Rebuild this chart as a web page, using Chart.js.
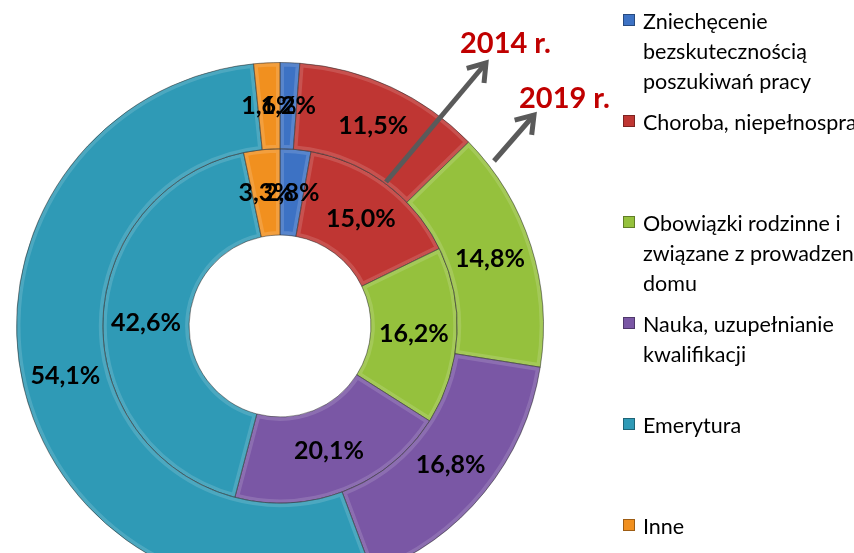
<!DOCTYPE html>
<html>
<head>
<meta charset="utf-8">
<script src="https://cdn.jsdelivr.net/npm/chart.js@4.4.1/dist/chart.umd.min.js"></script>
<style>
  html, body { margin: 0; padding: 0; background: #fff; }
  #wrap { position: relative; width: 854px; height: 553px; overflow: hidden; }
  #chartBox { position: absolute; left: 0; top: 0; width: 854px; height: 620px; }
  #legend { position: absolute; left: 623px; top: 6px; width: 231px; overflow: hidden;
            font-family: Lato, sans-serif; font-size: 21.5px; color: #000; }
  .item { position: relative; height: 101px; }
  .sw { position: absolute; left: 0; top: 8px; width: 12px; height: 12px; box-sizing: border-box;
        border: 1px solid rgba(0,0,0,0.35); }
  .txt { position: absolute; left: 20px; top: 0; white-space: pre; line-height: 30px; }
</style>
</head>
<body>
<div id="wrap">
  <div id="chartBox"><canvas id="chart"></canvas></div>
  <div id="legend"></div>
</div>
<script>
const categories = [
  "Zniechęcenie\nbezskutecznością\nposzukiwań pracy",
  "Choroba, niepełnosprawność",
  "Obowiązki rodzinne i\nzwiązane z prowadzeniem\ndomu",
  "Nauka, uzupełnianie\nkwalifikacji",
  "Emerytura",
  "Inne"
];
const values2019 = [1.2, 11.5, 14.8, 16.8, 54.1, 1.6]; // outer ring
const values2014 = [2.8, 15.0, 16.2, 20.1, 42.6, 3.3]; // inner ring
const colors = ["#3d72c4", "#bf3633", "#95c13d", "#7a57a5", "#2f9ab6", "#f1901f"];

const fmt = (v) => v.toFixed(1).replace(".", ",") + "%";

// light rim on each slice, a rough take on the bevelled look
const bevel = {
  id: "bevel",
  afterDatasetsDraw(chart) {
    const ctx = chart.ctx;
    chart.data.datasets.forEach((ds, i) => {
      chart.getDatasetMeta(i).data.forEach((arc) => {
        const { x, y, startAngle, endAngle, innerRadius, outerRadius } = arc;
        ctx.save();
        ctx.beginPath();
        ctx.arc(x, y, outerRadius, startAngle, endAngle);
        ctx.arc(x, y, innerRadius, endAngle, startAngle, true);
        ctx.closePath();
        ctx.clip();
        ctx.strokeStyle = "rgba(255,255,255,0.14)";
        ctx.lineWidth = 8;
        ctx.stroke();
        ctx.strokeStyle = "rgba(0,0,0,0.25)";
        ctx.lineWidth = 1;
        ctx.stroke();
        ctx.restore();
      });
    });
  }
};

// percentage labels in the middle of each slice
const sliceLabels = {
  id: "sliceLabels",
  afterDatasetsDraw(chart) {
    const ctx = chart.ctx;
    ctx.save();
    ctx.font = "bold 25px Lato";
    ctx.fillStyle = "#000";
    ctx.textAlign = "center";
    ctx.textBaseline = "middle";
    chart.data.datasets.forEach((ds, i) => {
      chart.getDatasetMeta(i).data.forEach((arc, j) => {
        const p = arc.tooltipPosition();
        ctx.fillText(fmt(ds.data[j]), p.x, p.y);
      });
    });
    ctx.restore();
  }
};

// year captions with arrows pointing at the rings
const yearArrows = {
  id: "yearArrows",
  afterDraw(chart) {
    const ctx = chart.ctx;
    const arrow = (x1, y1, x2, y2) => {
      const a = Math.atan2(y2 - y1, x2 - x1);
      ctx.beginPath();
      ctx.moveTo(x1, y1);
      ctx.lineTo(x2, y2);
      ctx.stroke();
      ctx.beginPath();
      ctx.moveTo(x2 - 20 * Math.cos(a - 0.6), y2 - 20 * Math.sin(a - 0.6));
      ctx.lineTo(x2, y2);
      ctx.lineTo(x2 - 20 * Math.cos(a + 0.6), y2 - 20 * Math.sin(a + 0.6));
      ctx.stroke();
    };
    ctx.save();
    ctx.strokeStyle = "#5a5a5a";
    ctx.lineWidth = 5;
    ctx.lineJoin = "miter";
    arrow(386, 182, 486, 63);
    arrow(494, 161, 534, 115);
    ctx.fillStyle = "#c00000";
    ctx.font = "bold 29px Lato";
    ctx.textBaseline = "alphabetic";
    ctx.fillText("2014 r.", 460, 53);
    ctx.fillText("2019 r.", 519, 108);
    ctx.restore();
  }
};

new Chart(document.getElementById("chart"), {
  type: "doughnut",
  data: {
    labels: categories,
    datasets: [
      { label: "2019", data: values2019, backgroundColor: colors },
      { label: "2014", data: values2014, backgroundColor: colors }
    ]
  },
  options: {
    responsive: true,
    maintainAspectRatio: false,
    animation: false,
    cutout: "34.5%",
    borderColor: "rgba(40,40,40,0.45)",
    borderWidth: 1,
    hoverOffset: 0,
    layout: { padding: { left: 16, top: 62, right: 310, bottom: 30 } },
    plugins: {
      legend: { display: false },
      tooltip: { enabled: false }
    }
  },
  plugins: [bevel, sliceLabels, yearArrows]
});

// legend on the right, built from the same arrays
const legend = document.getElementById("legend");
categories.forEach((name, i) => {
  const item = document.createElement("div");
  item.className = "item";
  item.innerHTML = '<div class="sw" style="background:' + colors[i] + '"></div><div class="txt"></div>';
  item.querySelector(".txt").textContent = name;
  legend.appendChild(item);
});
</script>
</body>
</html>
